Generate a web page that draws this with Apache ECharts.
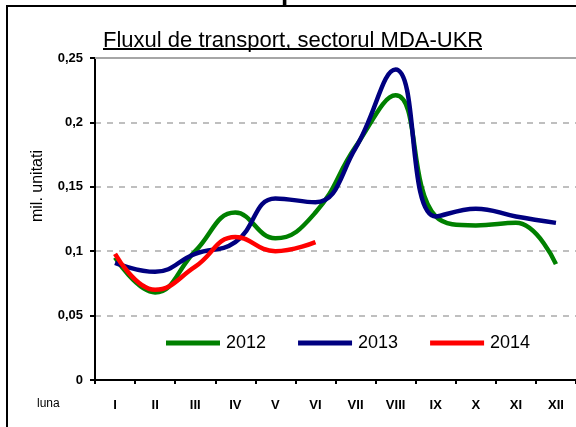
<!DOCTYPE html>
<html>
<head>
<meta charset="utf-8">
<script src="https://cdn.jsdelivr.net/npm/echarts@6/dist/echarts.min.js"></script>
<style>
html,body{margin:0;padding:0;background:#fff;}
#chart{width:576px;height:427px;}
</style>
</head>
<body>
<div id="chart"></div>
<script>
const months = ['I','II','III','IV','V','VI','VII','VIII','IX','X','XI','XII'];
const s2012 = [0.095, 0.068, 0.100, 0.130, 0.110, 0.130, 0.181, 0.221, 0.127, 0.120, 0.122, 0.090];
const s2013 = [0.091, 0.084, 0.098, 0.107, 0.141, 0.138, 0.180, 0.241, 0.127, 0.133, 0.127, 0.122];
const s2014 = [0.098, 0.070, 0.088, 0.111, 0.100, 0.107];
const yTicks = [0, 0.05, 0.1, 0.15, 0.2, 0.25];
const yTickLabels = ['0', '0,05', '0,1', '0,15', '0,2', '0,25'];
const titleText = 'Fluxul de transport, sectorul MDA-UKR';
const yName = 'mil. unitati';
const xName = 'luna';

const FONT = 'Liberation Sans';
const chart = echarts.init(document.getElementById('chart'), null, {renderer: 'canvas'});

function mkSeries(name, data, color) {
  return {
    name: name, type: 'line', data: data, smooth: 0.45,
    symbol: 'none', lineStyle: {color: color, width: 4.5}, itemStyle: {color: color},
    z: 3
  };
}

const series = [
  mkSeries('2012', s2012, '#008000'),
  mkSeries('2013', s2013, '#000080'),
  mkSeries('2014', s2014, '#FF0000')
];
series[0].markLine = {
  silent: true, symbol: 'none', label: {show: false},
  lineStyle: {color: '#A6A6A6', width: 2, type: 'solid'},
  data: [{yAxis: yTicks[yTicks.length - 1]}], animation: false
};

chart.setOption({
  animation: false,
  backgroundColor: '#fff',
  textStyle: {fontFamily: FONT},
  grid: {left: 95, right: 0, top: 58, bottom: 47},
  title: {
    text: titleText, left: 98, top: 25,
    textStyle: {fontFamily: FONT, fontSize: 22, fontWeight: 'normal', color: '#000'}
  },
  legend: {
    data: ['2012', '2013', '2014'],
    left: 166, top: 334, padding: 0,
    icon: 'rect', itemWidth: 54, itemHeight: 5, itemGap: 32,
    textStyle: {fontFamily: FONT, fontSize: 18, color: '#000', padding: [0, 0, 0, 1]}
  },
  xAxis: {
    type: 'category', data: months, boundaryGap: true,
    axisLine: {lineStyle: {color: '#000', width: 2}},
    axisTick: {show: true, length: 4, lineStyle: {color: '#000', width: 2}},
    axisLabel: {fontFamily: FONT, fontSize: 13, fontWeight: 'bold', color: '#000', margin: 19},
    splitLine: {show: false}
  },
  yAxis: {
    type: 'value', min: 0, max: 0.25, interval: 0.05,
    axisLine: {show: true, lineStyle: {color: '#000', width: 2}},
    axisTick: {show: true, length: 5, lineStyle: {color: '#000', width: 2}},
    axisLabel: {
      fontFamily: FONT, fontSize: 13, fontWeight: 'bold', color: '#000', margin: 12,
      formatter: function (v) {
        const i = yTicks.findIndex(t => Math.abs(t - v) < 1e-9);
        return i >= 0 ? yTickLabels[i] : String(v).replace('.', ',');
      }
    },
    splitLine: {show: true, lineStyle: {color: '#BFBFBF', width: 2, type: [6, 6]}}
  },
  graphic: [
    {type: 'rect', shape: {x: 7, y: 6, width: 640, height: 500},
     style: {fill: 'none', stroke: '#000', lineWidth: 2}, z: 10, silent: true},
    {type: 'line', shape: {x1: 103, y1: 49, x2: 482, y2: 49},
     style: {stroke: '#000', lineWidth: 2}, silent: true},
    {type: 'text', left: 37, top: 398,
     style: {text: xName, font: '12px "Liberation Sans"', fill: '#000'}, silent: true},
    {type: 'text', x: 38, y: 186, rotation: Math.PI / 2,
     style: {text: yName, font: '16px "Liberation Sans"', fill: '#000',
             align: 'center', verticalAlign: 'middle'}, silent: true},
    {type: 'text', x: 281, y: -20,
     style: {text: 'p', font: 'bold 26px "Liberation Sans"', fill: '#000'}, silent: true}
  ],
  series: series
});
</script>
</body>
</html>
